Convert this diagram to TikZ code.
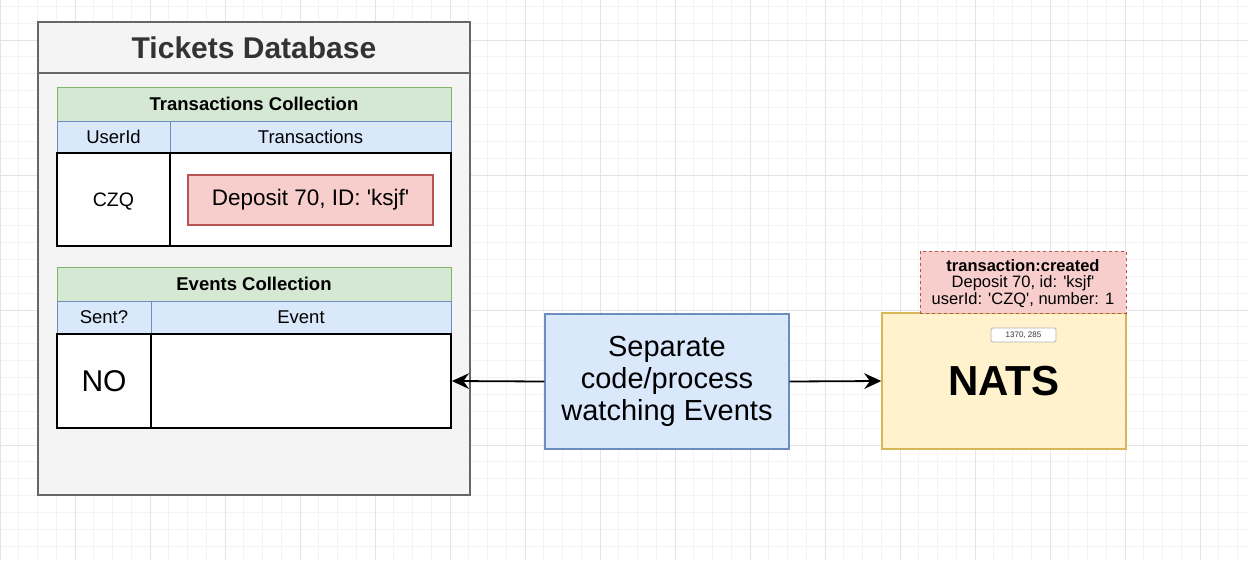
\documentclass[tikz,border=0pt]{standalone}
\usepackage{fontspec}
\setmainfont{Liberation Sans}
\usetikzlibrary{arrows.meta}

\definecolor{gridminor}{HTML}{F3F3F3}
\definecolor{gridmajor}{HTML}{E4E4E4}
\definecolor{dbfill}{HTML}{F4F4F4}
\definecolor{dbline}{HTML}{666666}
\definecolor{dbtext}{HTML}{333333}
\definecolor{greenfill}{HTML}{D5E8D4}
\definecolor{greenline}{HTML}{82B366}
\definecolor{bluefill}{HTML}{DAE8FC}
\definecolor{blueline}{HTML}{6C8EBF}
\definecolor{redfill}{HTML}{F8CECC}
\definecolor{redline}{HTML}{B85450}
\definecolor{yellowfill}{HTML}{FFF2CC}
\definecolor{yellowline}{HTML}{D6B656}

\begin{document}
\begin{tikzpicture}[x = 1pt, y = -1pt,
	box/.style = {draw, rectangle, inner sep = 0pt},
	greenhead/.style = {box, fill = greenfill, draw = greenline, line width = 1pt, minimum height = 34pt, font = \bfseries\fontsize{18.5}{22}\selectfont},
	bluehead/.style = {box, fill = bluefill, draw = blueline, line width = 1pt, font = \fontsize{18.5}{22}\selectfont},
	cell/.style = {box, fill = white, draw = black, line width = 1.8pt},
	redbox/.style = {box, fill = redfill, draw = redline, line width = 1.2pt},
	bluebox/.style = {box, fill = bluefill, draw = blueline, line width = 1.4pt},
	yellowbox/.style = {box, fill = yellowfill, draw = yellowline, line width = 1.4pt},
	link/.style = {-{Stealth[length = 0.6cm, width = 0.55cm, inset = 0.2cm]}, line width = 1.8pt}]

	% Definitions

	\def\W{1248}	% Width of picture
	\def\H{560}		% Height of picture
	\def\GX{18.75}	% Grid step, across
	\def\GY{16.875}	% Grid step, down
	\def\q{\textquotesingle}	% Straight quote

	% Background grid

	\fill [white] (0, 0) rectangle (\W, \H);
	\useasboundingbox (0, 0) rectangle (\W, \H);
	\foreach \i in {0, ..., 66} {
		\draw [gridminor, line width = 0.8pt] (\i * \GX, 0) -- (\i * \GX, \H);
	}
	\foreach \i in {0, ..., 33} {
		\draw [gridminor, line width = 0.8pt] (0, 6.25 + \i * \GY) -- (\W, 6.25 + \i * \GY);
	}
	\foreach \i in {0, ..., 16} {
		\draw [gridmajor, line width = 1pt] (\i * 75, 0) -- (\i * 75, \H);
	}
	\foreach \y in {40, 175, 310, 445} {
		\draw [gridmajor, line width = 1pt] (0, \y) -- (\W, \y);
	}

	% Tickets database

	\node [box, fill = dbfill, draw = dbline, line width = 2pt, minimum width = 432pt, minimum height = 473pt] (db) at (254, 258.5) {};
	\node [inner sep = 0pt, minimum height = 51pt, text = dbtext, font = \bfseries\fontsize{30}{34}\selectfont] (dbtitle) at (254, 47.5) {Tickets Database};
	\draw [dbline, line width = 1.5pt] (db.west |- dbtitle.south) -- (db.east |- dbtitle.south);

	% Transactions collection

	\node [greenhead, minimum width = 394pt] (txhead) at (254, 104) {Transactions Collection};
	\node [bluehead, minimum width = 113pt, minimum height = 32pt] (txuser) at (113.5, 137) {UserId};
	\node [bluehead, minimum width = 281pt, minimum height = 32pt] (txlist) at (310.5, 137) {Transactions};
	\node [cell, minimum width = 113pt, minimum height = 93pt, text depth = 0pt, font = \fontsize{19.5}{22}\selectfont] (txuserval) at (113.5, 199.5) {CZQ};
	\node [cell, minimum width = 281pt, minimum height = 93pt] (txlistval) at (310.5, 199.5) {};
	\node [redbox, minimum width = 245pt, minimum height = 50pt, font = \fontsize{22.5}{27}\selectfont] (deposit) at (310.5, 200) {Deposit 70, ID: \q ksjf\q};

	% Events collection

	\node [greenhead, minimum width = 394pt] (evhead) at (254, 284) {Events Collection};
	\node [bluehead, minimum width = 94pt, minimum height = 33pt] (evsent) at (104, 317.5) {Sent?};
	\node [bluehead, minimum width = 300pt, minimum height = 33pt] (evevent) at (301, 317.5) {Event};
	\node [cell, minimum width = 94pt, minimum height = 94pt, font = \fontsize{30}{34}\selectfont] (evsentval) at (104, 381) {NO};
	\node [cell, minimum width = 300pt, minimum height = 94pt] (eveventval) at (301, 381) {};

	% Watcher process and NATS

	\node [bluebox, minimum width = 244pt, minimum height = 135pt, align = center, font = \fontsize{29}{32}\selectfont] (watcher) at (667, 381.5) {Separate\\code/process\\watching Events};
	\node [yellowbox, minimum width = 244pt, minimum height = 136pt, font = \bfseries\fontsize{42}{48}\selectfont] (nats) at (1004, 381) {NATS};
	\node [redbox, dashed, line width = 1pt, minimum width = 206pt, minimum height = 62pt, align = center, text depth = 0pt, font = \fontsize{16.5}{16.8}\selectfont] (event) at (1023, 282)
		{\textbf{transaction:created}\\Deposit 70, id: \q ksjf\q\\userId: \q CZQ\q, number: 1};
	\node [box, fill = white, draw = gray!60, line width = 0.8pt, rounded corners = 1.5pt, minimum width = 65pt, minimum height = 14pt, font = \fontsize{8}{9}\selectfont, text = dbtext] (coords) at (1023.5, 335) {1370, 285};

	% Connectors

	\draw [link] (watcher.west) -- (eveventval.east);
	\draw [link] (watcher.east) -- (nats.west);

\end{tikzpicture}
\end{document}
